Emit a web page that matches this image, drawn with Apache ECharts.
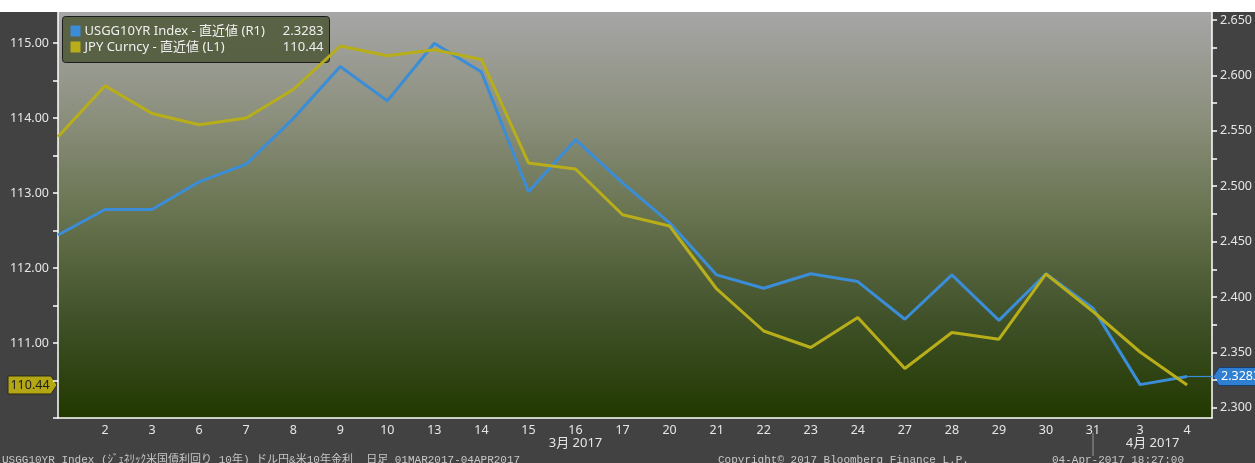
<!DOCTYPE html>
<html>
<head>
<meta charset="utf-8">
<script src="https://cdn.jsdelivr.net/npm/echarts@6/dist/echarts.min.js"></script>
<style>
  html, body { margin: 0; padding: 0; background: #ffffff; }
  #chart { width: 1255px; height: 463px; }
</style>
</head>
<body>
<div id="chart"></div>
<script>
// trading days, 01MAR2017 - 04APR2017
const days = ['1', '2', '3', '6', '7', '8', '9', '10', '13', '14', '15', '16', '17',
  '20', '21', '22', '23', '24', '27', '28', '29', '30', '31', '3', '4'];

// USGG10YR Index (R1)
const usgg10yr = [2.456, 2.479, 2.479, 2.504, 2.520, 2.561, 2.608, 2.577, 2.629, 2.603,
  2.495, 2.542, 2.503, 2.467, 2.420, 2.408, 2.421, 2.414, 2.380, 2.420,
  2.379, 2.421, 2.390, 2.321, 2.3283];

// JPY Curncy (L1)
const jpy = [113.75, 114.43, 114.06, 113.91, 114.00, 114.38, 114.96, 114.83, 114.91, 114.78,
  113.40, 113.32, 112.71, 112.56, 111.72, 111.16, 110.94, 111.34, 110.66, 111.14,
  111.05, 111.92, 111.42, 110.88, 110.44];

// axis labels / ticks
const leftLabels = [111, 112, 113, 114, 115];
const leftTicks = [110, 110.5, 111, 111.5, 112, 112.5, 113, 113.5, 114, 114.5, 115];
const rightLabels = [2.30, 2.35, 2.40, 2.45, 2.50, 2.55, 2.60, 2.65];
const rightTicks = [2.30, 2.325, 2.35, 2.375, 2.40, 2.425, 2.45, 2.475, 2.50, 2.525,
  2.55, 2.575, 2.60, 2.625, 2.65];
const months = ['3月 2017', '4月 2017'];

const BLUE = '#3a8dd6';
const YELLOW = '#b8ae1a';
const FONT = "'Noto Sans', 'Noto Sans CJK JP', sans-serif";
const MONO = "'Liberation Mono', 'Noto Sans CJK JP', monospace";

const chart = echarts.init(document.getElementById('chart'), null, { renderer: 'canvas' });

const lastIdx = days.length - 1;
const xMax = lastIdx + 0.53;

const option = {
  backgroundColor: '#424242',
  animation: false,
  grid: {
    left: 58, right: 42, top: 12, bottom: 45,
    show: true,
    borderWidth: 0,
    backgroundColor: new echarts.graphic.LinearGradient(0, 0, 0, 1, [
      { offset: 0, color: '#a6a6a6' },
      { offset: 0.25, color: '#8c907e' },
      { offset: 0.5, color: '#68734f' },
      { offset: 0.75, color: '#41522a' },
      { offset: 1, color: '#213800' }
    ])
  },
  xAxis: {
    type: 'value',
    min: 0,
    max: xMax,
    splitLine: { show: false },
    axisLine: { show: true, lineStyle: { color: '#ffffff', width: 1.5 } },
    axisTick: { show: false },
    axisLabel: {
      customValues: days.map((d, i) => i).slice(1),
      formatter: v => days[v],
      color: '#e6e6e6',
      fontFamily: FONT,
      fontSize: 12.5,
      margin: 6
    }
  },
  yAxis: [
    {
      type: 'value',
      position: 'left',
      min: 110,
      max: 115.413,
      splitLine: { show: false },
      axisLine: { show: true, lineStyle: { color: '#ffffff', width: 1.5 } },
      axisTick: { show: true, customValues: leftTicks, length: 5, lineStyle: { color: '#ffffff', width: 1.5 } },
      axisLabel: {
        customValues: leftLabels,
        formatter: v => v.toFixed(2),
        color: '#e6e6e6',
        fontFamily: FONT,
        fontSize: 12.5,
        margin: 9
      }
    },
    {
      type: 'value',
      position: 'right',
      min: 2.2909,
      max: 2.6572,
      splitLine: { show: false },
      axisLine: { show: true, lineStyle: { color: '#ffffff', width: 1.5 } },
      axisTick: { show: true, customValues: rightTicks, length: 5, lineStyle: { color: '#ffffff', width: 1.5 } },
      axisLabel: {
        customValues: rightLabels,
        formatter: v => v.toFixed(3),
        color: '#e6e6e6',
        fontFamily: FONT,
        fontSize: 12.5,
        margin: 8
      }
    }
  ],
  series: [
    {
      name: 'USGG10YR Index',
      type: 'line',
      yAxisIndex: 1,
      data: usgg10yr.map((v, i) => [i, v]),
      symbol: 'none',
      lineStyle: { color: BLUE, width: 3 },
      markLine: {
        silent: true,
        symbol: 'none',
        label: { show: false },
        lineStyle: { color: BLUE, width: 1.2, type: 'solid' },
        data: [[{ coord: [lastIdx, usgg10yr[lastIdx]] }, { coord: [xMax, usgg10yr[lastIdx]] }]]
      }
    },
    {
      name: 'JPY Curncy',
      type: 'line',
      yAxisIndex: 0,
      data: jpy.map((v, i) => [i, v]),
      symbol: 'none',
      lineStyle: { color: YELLOW, width: 3 }
    }
  ]
};

chart.setOption(option);

// decorations placed from the library's own scales
const px = i => chart.convertToPixel({ xAxisIndex: 0 }, i);
const plotLeft = px(0);
const plotRight = chart.convertToPixel({ xAxisIndex: 0 }, xMax);
const sepX = px(22);
const yJpy = chart.convertToPixel({ yAxisIndex: 0 }, jpy[lastIdx]);
const yUs = chart.convertToPixel({ yAxisIndex: 1 }, usgg10yr[lastIdx]);

const graphics = [
  // white strip along the top
  { type: 'rect', shape: { x: 0, y: 0, width: 1255, height: 12 }, style: { fill: '#ffffff' } },
  // legend box
  {
    type: 'group', left: 62, top: 16,
    children: [
      { type: 'rect', shape: { x: 0, y: 0, width: 267, height: 46, r: 3 },
        style: { fill: 'rgba(84,92,62,0.92)', stroke: '#1c1c1c', lineWidth: 1 } },
      { type: 'rect', shape: { x: 8, y: 9, width: 10, height: 11 }, style: { fill: BLUE } },
      { type: 'rect', shape: { x: 8, y: 25, width: 10, height: 11 }, style: { fill: YELLOW } },
      { type: 'text', x: 22, y: 14.5, style: { text: 'USGG10YR Index - 直近値 (R1)', fill: '#f0f0f0',
        font: '13px ' + FONT, verticalAlign: 'middle' } },
      { type: 'text', x: 261, y: 14.5, style: { text: usgg10yr[lastIdx].toFixed(4), fill: '#f0f0f0',
        font: '13px ' + FONT, align: 'right', verticalAlign: 'middle' } },
      { type: 'text', x: 22, y: 30.5, style: { text: 'JPY Curncy - 直近値 (L1)', fill: '#f0f0f0',
        font: '13px ' + FONT, verticalAlign: 'middle' } },
      { type: 'text', x: 261, y: 30.5, style: { text: jpy[lastIdx].toFixed(2), fill: '#f0f0f0',
        font: '13px ' + FONT, align: 'right', verticalAlign: 'middle' } }
    ]
  },
  // last value badge, left axis
  {
    type: 'polygon',
    shape: { points: [[8, yJpy - 9], [51, yJpy - 9], [57, yJpy], [51, yJpy + 9], [8, yJpy + 9]] },
    style: { fill: '#b3a716', stroke: '#2c2c10', lineWidth: 1 }
  },
  { type: 'text', x: 30, y: yJpy, style: { text: jpy[lastIdx].toFixed(2), fill: '#1e1e1e',
    font: '12.5px ' + FONT, align: 'center', verticalAlign: 'middle' } },
  // last value badge, right axis
  {
    type: 'polygon',
    shape: { points: [[plotRight + 1, yUs], [plotRight + 7, yUs - 9], [1256, yUs - 9], [1256, yUs + 9], [plotRight + 7, yUs + 9]] },
    style: { fill: '#2f80d2', stroke: '#173e70', lineWidth: 1 }
  },
  { type: 'text', x: plotRight + 9, y: yUs, style: { text: usgg10yr[lastIdx].toFixed(4), fill: '#ffffff',
    font: '12.5px ' + FONT, verticalAlign: 'middle' } },
  // month separator and month labels
  { type: 'line', shape: { x1: sepX, y1: 433, x2: sepX, y2: 456 }, style: { stroke: '#9a9a9a', lineWidth: 1 } },
  { type: 'text', x: (plotLeft + sepX) / 2, y: 443, style: { text: months[0], fill: '#e6e6e6',
    font: '13px ' + FONT, align: 'center', verticalAlign: 'middle' } },
  { type: 'text', x: (sepX + plotRight) / 2, y: 443, style: { text: months[1], fill: '#e6e6e6',
    font: '13px ' + FONT, align: 'center', verticalAlign: 'middle' } },
  // footer
  { type: 'text', x: 2, y: 455, style: { text: 'USGG10YR Index (ｼﾞｪﾈﾘｯｸ米国債利回り 10年) ドル円&米10年金利  日足 01MAR2017-04APR2017',
    fill: '#c8c8c8', font: '11px ' + MONO } },
  { type: 'text', x: 718, y: 455, style: { text: 'Copyright© 2017 Bloomberg Finance L.P.',
    fill: '#c8c8c8', font: '11px ' + MONO } },
  { type: 'text', x: 1052, y: 455, style: { text: '04-Apr-2017 18:27:00',
    fill: '#c8c8c8', font: '11px ' + MONO } }
];

chart.setOption({ graphic: graphics });
</script>
</body>
</html>
